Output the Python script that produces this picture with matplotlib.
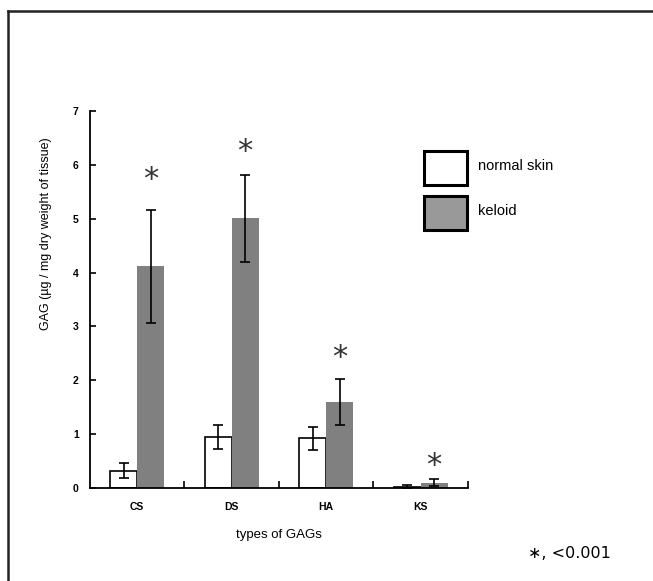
import matplotlib
matplotlib.use("Agg")
import matplotlib.pyplot as plt
from matplotlib.lines import Line2D
from matplotlib.patches import Rectangle
import numpy as np

plt.rcParams['font.family'] = ['Liberation Sans', 'DejaVu Sans']

# data
categories = ['CS', 'DS', 'HA', 'KS']
normal = [0.32, 0.95, 0.92, 0.02]
normal_err = [0.14, 0.22, 0.22, 0.04]
keloid = [4.12, 5.01, 1.60, 0.10]
keloid_err = [1.05, 0.81, 0.43, 0.06]
star_y = [5.72, 6.25, 2.43, 0.41]

x = np.arange(len(categories)) + 0.5
w = 0.285

fig = plt.figure(figsize=(6.53, 5.81), dpi=100)
ax = fig.add_axes([0.1378, 0.1601, 0.5789, 0.6489])

ax.bar(x - w / 2, normal, w, color='white', edgecolor='black', linewidth=1.2)
ax.bar(x + w / 2, keloid, w, color='#808080', edgecolor='none')
ax.errorbar(x - w / 2, normal, yerr=normal_err, fmt='none', ecolor='black',
            elinewidth=1.2, capsize=3.5, capthick=1.2)
ax.errorbar(x + w / 2, keloid, yerr=keloid_err, fmt='none', ecolor='black',
            elinewidth=1.2, capsize=3.5, capthick=1.2)

for xi, sy in zip(x, star_y):
    ax.text(xi + w / 2, sy, '*', ha='center', va='center', fontsize=22,
            color='#333333', family='DejaVu Sans')

ax.set_xlim(0, 4)
ax.set_ylim(0, 7)
for s in ['top', 'right']:
    ax.spines[s].set_visible(False)
ax.spines['left'].set_linewidth(1.3)
ax.spines['bottom'].set_linewidth(1.3)

ax.set_yticks(range(8))
ax.set_yticklabels([str(i) for i in range(8)], fontsize=7.5, fontweight='bold')
ax.set_xticks([1, 2, 3, 4])
ax.set_xticklabels([])
ax.set_xticks(x, minor=True)
ax.set_xticklabels(categories, minor=True, fontsize=7.5, fontweight='bold')
ax.tick_params(axis='x', which='major', direction='in', length=5, width=1.2)
ax.tick_params(axis='x', which='minor', length=0, pad=10)
ax.tick_params(axis='y', direction='in', length=4, width=1.2, pad=8)

ax.set_ylabel('GAG (µg / mg dry weight of tissue)', fontsize=9)
ax.yaxis.set_label_coords(-0.10, 0.674)
ax.set_xlabel('types of GAGs', fontsize=9.5, labelpad=12)

# legend drawn as boxes in figure coordinates
W, H = 653, 581
legend_items = [('normal skin', 'white', 151), ('keloid', '#999999', 196)]
for label, col, ytop in legend_items:
    fig.add_artist(Rectangle((424 / W, 1 - (ytop + 34) / H), 43 / W, 34 / H,
                             facecolor=col, edgecolor='black', linewidth=2.2,
                             transform=fig.transFigure))
    fig.text(478 / W, 1 - (ytop + 15) / H, label, fontsize=10.5, va='center')

fig.text(528 / W, 1 - 554 / H, '∗, <0.001', fontsize=11.5, va='center',
         family=['DejaVu Sans'])

# outer frame (top and left edges)
fig.add_artist(Line2D([8 / W, 1], [1 - 11 / H, 1 - 11 / H], color='#222222',
                      linewidth=1.8, transform=fig.transFigure))
fig.add_artist(Line2D([8 / W, 8 / W], [0, 1 - 11 / H], color='#222222',
                      linewidth=1.8, transform=fig.transFigure))

fig.savefig('out.png', dpi=100)
